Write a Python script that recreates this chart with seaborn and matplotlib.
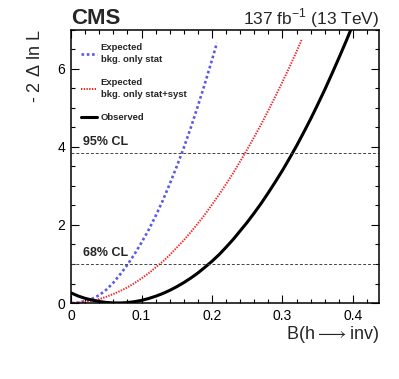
import matplotlib
matplotlib.use("Agg")
import matplotlib.pyplot as plt
import matplotlib.ticker as mticker
import pandas as pd
import seaborn as sns

# values
x_stat = [0.0, 0.01, 0.02, 0.03, 0.04, 0.05, 0.06, 0.07, 0.08, 0.09, 0.10,
          0.11, 0.12, 0.13, 0.14, 0.15, 0.16, 0.17, 0.18, 0.19, 0.20, 0.207]
nll_stat = [0.0, 0.01, 0.05, 0.11, 0.2, 0.34, 0.52, 0.74, 0.98, 1.25, 1.55,
            1.87, 2.23, 2.62, 3.05, 3.5, 3.98, 4.5, 5.05, 5.63, 6.23, 6.67]

x_syst = [0.0, 0.01, 0.02, 0.03, 0.04, 0.05, 0.06, 0.07, 0.08, 0.09, 0.10,
          0.11, 0.12, 0.13, 0.14, 0.15, 0.16, 0.17, 0.18, 0.19, 0.20, 0.21,
          0.22, 0.23, 0.24, 0.25, 0.26, 0.27, 0.28, 0.29, 0.30, 0.31, 0.32,
          0.327]
nll_syst = [0.0, 0.01, 0.03, 0.06, 0.1, 0.16, 0.23, 0.31, 0.4, 0.51, 0.63,
            0.76, 0.91, 1.06, 1.23, 1.42, 1.61, 1.82, 2.04, 2.27, 2.52, 2.78,
            3.05, 3.33, 3.63, 3.94, 4.26, 4.59, 4.94, 5.3, 5.67, 6.05, 6.45,
            6.74]

x_obs = [0.0, 0.01, 0.02, 0.03, 0.04, 0.05, 0.06, 0.07, 0.08, 0.09, 0.10,
         0.11, 0.12, 0.13, 0.14, 0.15, 0.16, 0.17, 0.18, 0.19, 0.20, 0.21,
         0.22, 0.23, 0.24, 0.25, 0.26, 0.27, 0.28, 0.29, 0.30, 0.31, 0.32,
         0.33, 0.34, 0.35, 0.36, 0.37, 0.38, 0.39, 0.40]
nll_obs = [0.26, 0.18, 0.12, 0.074, 0.039, 0.015, 0.002, 0.001, 0.011, 0.034,
           0.067, 0.115, 0.173, 0.242, 0.324, 0.418, 0.523, 0.64, 0.77, 0.917,
           1.07, 1.24, 1.43, 1.63, 1.85, 2.07, 2.31, 2.56, 2.83, 3.11, 3.40,
           3.71, 4.03, 4.37, 4.72, 5.09, 5.47, 5.87, 6.28, 6.70, 7.14]

cl_levels = [1.0, 3.84]
cl_labels = ["68% CL", "95% CL"]
x_ticks = [0, 0.1, 0.2, 0.3, 0.4]
y_ticks = [0, 2, 4, 6]

sns.set_style("ticks")
plt.rcParams["font.family"] = ["Liberation Sans", "DejaVu Sans"]
plt.rcParams["mathtext.fontset"] = "custom"
plt.rcParams["mathtext.rm"] = "Liberation Sans"

fig = plt.figure(figsize=(3.99, 3.79), dpi=100)
ax = fig.add_axes([0.178, 0.2005, 0.772, 0.7205])

df_stat = pd.DataFrame({"x": x_stat, "y": nll_stat})
df_syst = pd.DataFrame({"x": x_syst, "y": nll_syst})
df_obs = pd.DataFrame({"x": x_obs, "y": nll_obs})

sns.lineplot(data=df_stat, x="x", y="y", ax=ax, color="#5a5ae6", lw=1.9,
             linestyle=(0, (1, 1)), label="Expected\nbkg. only stat")
sns.lineplot(data=df_syst, x="x", y="y", ax=ax, color="#f02020", lw=1.4,
             linestyle=(0, (0.7, 0.7)), label="Expected\nbkg. only stat+syst")
sns.lineplot(data=df_obs, x="x", y="y", ax=ax, color="black", lw=2.2,
             label="Observed")

for lvl, lab in zip(cl_levels, cl_labels):
    ax.axhline(lvl, color="#444444", lw=0.7, linestyle=(0, (3, 2)))
    ax.text(0.017, lvl + 0.13, lab, fontsize=9, fontweight="bold",
            ha="left", va="bottom")

ax.set_xlim(0, 0.437)
ax.set_ylim(0, 7)
ax.set_xticks(x_ticks)
ax.set_yticks(y_ticks)
ax.xaxis.set_major_formatter(mticker.FuncFormatter(lambda v, p: f"{v:g}"))
ax.xaxis.set_minor_locator(mticker.MultipleLocator(0.02))
ax.yaxis.set_minor_locator(mticker.MultipleLocator(0.5))
ax.tick_params(which="both", direction="in", top=True, right=True,
               labelsize=10, width=0.8, colors="black")
ax.tick_params(which="major", length=6, pad=4)
ax.tick_params(which="minor", length=3)
for sp in ax.spines.values():
    sp.set_visible(True)
    sp.set_linewidth(1.1)
    sp.set_color("black")

ax.set_xlabel(r"B(h$\longrightarrow$inv)", fontsize=13, loc="right",
              labelpad=1)
ax.set_ylabel(r"- 2 $\Delta$ ln L", fontsize=13, loc="top", labelpad=10)

fig.text(0.178, 0.937, "CMS", fontsize=16, fontweight="bold",
         ha="left", va="baseline")
fig.text(0.950, 0.935, r"137 fb$^{\mathregular{-1}}$ (13 TeV)", fontsize=12.5,
         ha="right", va="baseline")

leg = ax.legend(loc="upper left", bbox_to_anchor=(0.02, 0.965), frameon=False,
                prop={"size": 6.8, "weight": "bold"}, handlelength=1.7,
                handletextpad=0.4, labelspacing=1.45, borderaxespad=0)
for t in leg.get_texts():
    t.set_linespacing(1.45)

fig.savefig("out.png", dpi=100)
